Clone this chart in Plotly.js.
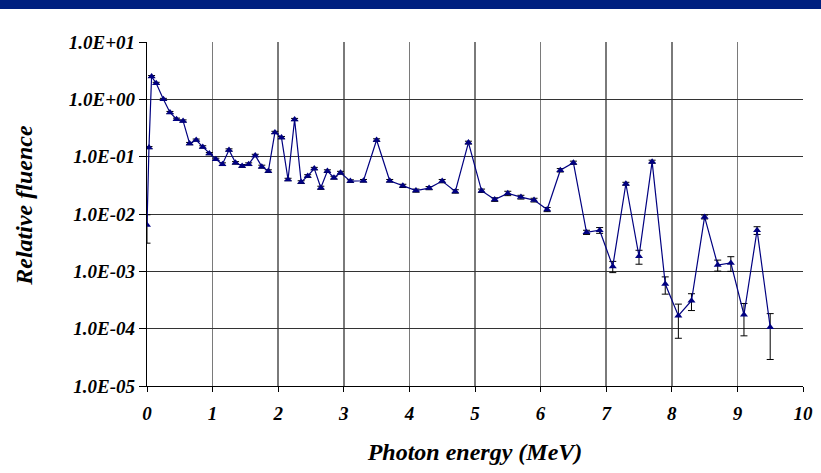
<!DOCTYPE html>
<html>
<head>
<meta charset="utf-8">
<script src="https://cdn.plot.ly/plotly-3.0.1.min.js"></script>
<style>html,body{margin:0;padding:0;background:#fff;}#chart{width:821px;height:473px;}</style>
</head>
<body>
<div id="chart"></div>
<script>
// Photon energy (MeV)
const energy = [0.0, 0.03, 0.07, 0.14, 0.25, 0.35, 0.45, 0.55, 0.65, 0.75, 0.85, 0.95,
  1.05, 1.15, 1.25, 1.35, 1.45, 1.55, 1.65, 1.75, 1.85, 1.95, 2.05, 2.15, 2.25, 2.35,
  2.45, 2.55, 2.65, 2.75, 2.85, 2.95, 3.1, 3.3, 3.5, 3.7, 3.9, 4.1, 4.3, 4.5, 4.7, 4.9,
  5.1, 5.3, 5.5, 5.7, 5.9, 6.1, 6.3, 6.5, 6.7, 6.9, 7.1, 7.3, 7.5, 7.7, 7.9, 8.1, 8.3,
  8.5, 8.7, 8.9, 9.1, 9.3, 9.5];
// Relative fluence
const fluence = [0.0064, 0.144, 2.5, 1.9, 1.0, 0.59, 0.45, 0.42, 0.169, 0.195, 0.148, 0.113,
  0.09, 0.074, 0.131, 0.078, 0.069, 0.074, 0.105, 0.067, 0.056, 0.265, 0.215, 0.040, 0.445, 0.036,
  0.046, 0.062, 0.0287, 0.056, 0.043, 0.0525, 0.0375, 0.038, 0.195, 0.038, 0.031, 0.0256, 0.0283, 0.0375, 0.0248, 0.176,
  0.0255, 0.0179, 0.0229, 0.0197, 0.0175, 0.012, 0.058, 0.0785, 0.0048, 0.0052, 0.00122, 0.0337, 0.00183, 0.0818, 0.0006, 0.000168, 0.000307,
  0.0089, 0.00129, 0.0014, 0.000175, 0.0052, 0.000106];
// Uncertainty (absolute)
const fluenceErr = [0.0033, 0.006, 0.1, 0.08, 0.04, 0.025, 0.02, 0.018, 0.008, 0.008, 0.007, 0.005,
  0.004, 0.004, 0.006, 0.004, 0.004, 0.004, 0.005, 0.004, 0.003, 0.012, 0.01, 0.002, 0.02, 0.002,
  0.0025, 0.003, 0.0018, 0.003, 0.0025, 0.003, 0.002, 0.002, 0.01, 0.002, 0.002, 0.0016, 0.0018, 0.0025, 0.0017, 0.01,
  0.0017, 0.0013, 0.002, 0.0015, 0.0013, 0.001, 0.004, 0.005, 0.0004, 0.0006, 0.00027, 0.002, 0.0005, 0.005, 0.0002, 0.0001, 0.0001,
  0.0007, 0.00028, 0.0004, 0.0001, 0.0008, 0.000077];
// Axis ticks
const xTicks = [0, 1, 2, 3, 4, 5, 6, 7, 8, 9, 10];
const yTickVals = [1e1, 1e0, 1e-1, 1e-2, 1e-3, 1e-4, 1e-5];
const yTickText = ['1.0E+01', '1.0E+00', '1.0E-01', '1.0E-02', '1.0E-03', '1.0E-04', '1.0E-05'];

const FAM = 'Liberation Serif';
function bi(size) { return {family: FAM, size: size, weight: 'bold', style: 'italic', color: '#000000'}; }

const trace = {
  x: energy, y: fluence, type: 'scatter', mode: 'lines+markers',
  line: {color: '#000080', width: 1.2},
  marker: {symbol: 'triangle-up', size: 7, color: '#000080'},
  error_y: {type: 'data', array: fluenceErr, visible: true, color: '#000000', thickness: 1, width: 3.5},
  hoverinfo: 'x+y', showlegend: false
};
const layout = {
  width: 821, height: 473,
  margin: {l: 146.5, r: 18.3, t: 42, b: 87},
  paper_bgcolor: '#ffffff', plot_bgcolor: '#ffffff',
  font: {family: FAM, size: 16, color: '#000000'},
  xaxis: {
    range: [0, 10], tickvals: xTicks, ticktext: xTicks.map(String),
    showgrid: true, gridcolor: '#7a7a7a', gridwidth: 1.5,
    showline: true, linecolor: '#000', linewidth: 1.2,
    ticks: 'outside', ticklen: 5, tickcolor: '#000',
    ticklabelstandoff: 5,
    tickfont: bi(19),
    zeroline: false,
    title: {text: 'Photon energy (MeV)', font: bi(24), standoff: 20}
  },
  yaxis: {
    type: 'log', range: [-5, 1], tickvals: yTickVals, ticktext: yTickText,
    showgrid: true, gridcolor: '#333333', gridwidth: 1,
    showline: true, linecolor: '#000', linewidth: 1.2,
    ticks: 'outside', ticklen: 7, tickcolor: '#000',
    tickfont: bi(19),
    zeroline: false
  },
  annotations: [{text: 'Relative fluence', xref: 'paper', yref: 'paper',
    x: -0.188, y: 0.526, xanchor: 'center', yanchor: 'middle', textangle: -90,
    showarrow: false, font: bi(24)}],
  shapes: [{type: 'rect', xref: 'paper', yref: 'paper', x0: -0.5, x1: 1.5,
    y0: 1 + 33 / 344, y1: 1 + 50 / 344, fillcolor: '#00207f', line: {width: 0}, layer: 'above'}]
};
Plotly.newPlot('chart', [trace], layout, {displayModeBar: false, staticPlot: true});
</script>
</body>
</html>
